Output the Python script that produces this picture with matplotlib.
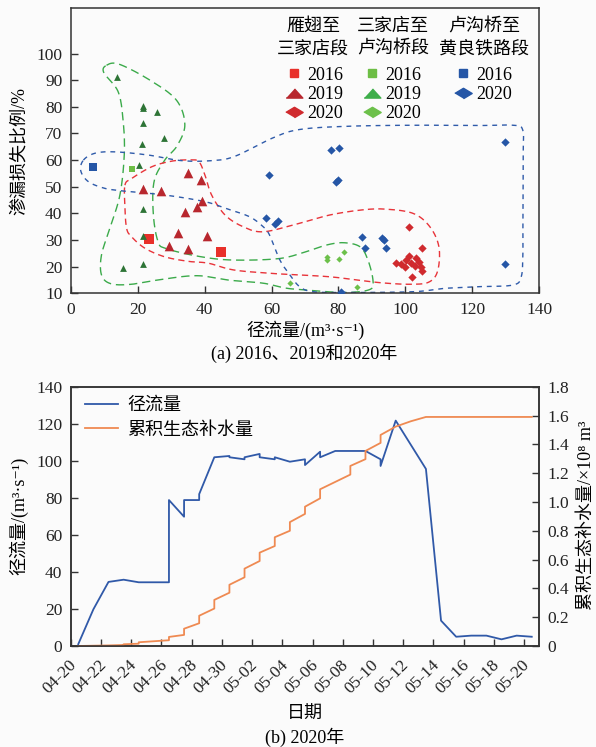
import numpy as np
import pandas as pd
import matplotlib
matplotlib.use("Agg")
import matplotlib.pyplot as plt
import matplotlib.dates as mdates
from matplotlib.lines import Line2D
from matplotlib.legend import Legend
from matplotlib.transforms import ScaledTranslation
from matplotlib.ticker import FuncFormatter

plt.rcParams['font.family'] = ['Liberation Serif', 'Noto Sans CJK SC', 'DejaVu Serif']
plt.rcParams['axes.unicode_minus'] = False

# ---------------- data: panel (a) ----------------
# 雁翅至三家店段
yq_2016_x = [23.3, 44.9]
yq_2016_y = [30.2, 25.6]
yq_2019_x = [34.9, 39.0, 21.5, 26.9, 39.1, 37.6, 34.2, 32.1, 40.6, 29.4, 34.9]
yq_2019_y = [55.2, 52.5, 49.0, 48.4, 44.6, 42.5, 40.5, 32.7, 31.6, 27.6, 26.5]
yq_2020_x = [101.1, 105.0, 97.3, 98.8, 100.3, 101.1, 101.8, 102.8, 103.3, 104.1, 104.8, 105.1, 102.0, 99.8]
yq_2020_y = [35.0, 27.1, 21.5, 21.0, 22.5, 24.0, 21.2, 20.2, 23.1, 21.9, 20.0, 18.5, 16.2, 20.0]
# 三家店至卢沟桥段
sj_2016_x = [18.3]
sj_2016_y = [56.5]
sj_2019_x = [13.7, 21.5, 21.6, 25.7, 21.7, 27.8, 21.3, 20.3, 21.7, 21.7, 15.7, 21.7]
sj_2019_y = [91.2, 79.4, 80.3, 78.0, 73.8, 68.2, 66.2, 58.3, 41.6, 31.5, 19.4, 20.9]
sj_2020_x = [65.5, 76.6, 76.6, 80.2, 81.7, 85.5]
sj_2020_y = [13.8, 23.7, 22.5, 22.7, 25.5, 12.5]
# 卢沟桥至黄良铁路段
lg_2016_x = [6.7]
lg_2016_y = [57.5]
lg_2020_x = [77.9, 80.2, 59.3, 79.2, 79.9, 58.3, 61.0, 62.0, 86.9, 87.9, 93.1, 93.6, 94.3, 80.9, 129.9, 129.9]
lg_2020_y = [63.7, 64.7, 54.4, 51.9, 52.5, 38.1, 36.0, 37.2, 31.0, 26.9, 30.6, 30.0, 27.1, 10.6, 66.9, 20.9]

# hand-drawn grouping outlines (data coordinates)
green_outline = [(10.7, 95.6), (14.5, 96.0), (23.7, 90.0), (31.6, 82.5), (34.1, 73.3), (31.8, 65.4),
                 (28.1, 60.0), (24.9, 51.9), (24.7, 39.4), (26.1, 29.4), (28.5, 26.8), (38.1, 23.9),
                 (48.1, 22.5), (62.0, 23.0), (70.0, 25.5), (76.0, 28.0), (81.4, 29.0), (86.4, 27.5),
                 (88.8, 22.5), (90.3, 15.0), (89.5, 11.5), (82.4, 10.3), (72.4, 11.0), (64.5, 11.9),
                 (57.5, 13.8), (48.1, 14.8), (38.1, 16.6), (28.1, 15.4), (18.2, 13.4), (12.0, 13.6),
                 (9.2, 16.9), (9.2, 24.4), (11.7, 34.4), (14.7, 46.9), (16.0, 61.9), (15.7, 74.3),
                 (14.2, 85.6), (9.9, 92.8)]
red_outline = [(16.2, 50.6), (18.2, 53.1), (24.2, 57.5), (30.1, 59.6), (35.6, 60.1), (38.3, 59.4),
               (40.1, 54.4), (42.1, 46.9), (46.1, 39.4), (51.5, 35.0), (57.5, 33.1), (67.5, 36.0),
               (77.4, 39.4), (87.0, 41.3), (94.0, 41.6), (102.3, 40.0), (107.3, 35.0), (110.0, 27.5),
               (109.7, 18.7), (107.3, 14.4), (102.3, 13.4), (92.3, 14.0), (77.4, 16.2), (62.0, 17.3),
               (49.0, 18.7), (41.1, 21.3), (35.1, 22.0), (28.1, 23.7), (22.2, 26.9), (18.2, 31.2),
               (16.7, 34.4), (16.2, 42.5)]
blue_outline = [(3.8, 60.0), (7.3, 62.6), (13.2, 63.1), (23.2, 61.9), (33.1, 59.8), (42.1, 59.8),
                (49.0, 61.4), (60.5, 68.4), (68.4, 71.5), (82.4, 72.7), (102.3, 73.1), (122.2, 73.0),
                (132.1, 73.1), (135.0, 71.5), (135.2, 62.5), (135.1, 38.7), (135.1, 25.0), (134.6, 16.2),
                (132.1, 13.1), (122.2, 12.5), (112.2, 11.9), (102.3, 10.6), (82.4, 10.3), (72.4, 10.6),
                (68.4, 12.5), (65.5, 16.9), (62.5, 22.5), (59.4, 31.9), (57.5, 35.0), (53.5, 38.7),
                (47.0, 41.6), (40.1, 44.4), (28.1, 46.9), (15.7, 48.4), (10.2, 49.4), (5.3, 51.9),
                (3.0, 56.0)]

# ---------------- data: panel (b) ----------------
runoff_time = ['04-20 12:00', '04-21 12:00', '04-22 12:00', '04-23 12:00', '04-24 12:00',
               '04-25 12:00', '04-26 12:00', '04-26 12:00', '04-27 12:00', '04-27 12:00',
               '04-28 12:00', '04-28 12:00', '04-29 12:00', '04-30 12:00', '04-30 12:00',
               '05-01 12:00', '05-01 12:00', '05-02 12:00', '05-02 12:00', '05-03 12:00',
               '05-03 12:00', '05-04 12:00', '05-05 12:00', '05-05 12:00', '05-06 12:00',
               '05-06 12:00', '05-07 12:00', '05-08 12:00', '05-09 12:00', '05-10 12:00',
               '05-10 12:00', '05-11 12:00', '05-13 12:00', '05-14 12:00', '05-15 12:00',
               '05-16 12:00', '05-17 12:00', '05-18 12:00', '05-19 12:00', '05-20 12:00']
runoff_value = [1.0, 19.8, 34.6, 35.8, 34.4,
                34.4, 34.4, 78.8, 69.8, 78.8,
                78.8, 82.0, 101.9, 102.6, 101.9,
                100.8, 101.9, 103.7, 101.9, 100.8,
                101.9, 99.5, 100.8, 97.7, 104.9,
                101.9, 105.3, 105.3, 105.3, 100.8,
                97.2, 121.7, 95.6, 13.7, 5.0,
                5.6, 5.6, 3.6, 5.6, 5.0]

supply_time = ['04-20 12:00', '04-21 12:00', '04-22 12:00', '04-23 12:00', '04-23 12:00',
               '04-24 12:00', '04-24 12:00', '04-25 12:00', '04-26 12:00', '04-26 12:00',
               '04-27 12:00', '04-27 12:00', '04-28 12:00', '04-28 12:00', '04-29 12:00',
               '04-29 12:00', '04-30 12:00', '04-30 12:00', '05-01 12:00', '05-01 12:00',
               '05-02 12:00', '05-02 12:00', '05-03 12:00', '05-03 12:00', '05-04 12:00',
               '05-04 12:00', '05-05 12:00', '05-05 12:00', '05-06 12:00', '05-06 12:00',
               '05-08 12:00', '05-08 12:00', '05-09 12:00', '05-09 12:00', '05-10 12:00',
               '05-10 12:00', '05-11 12:00', '05-12 12:00', '05-13 12:00', '05-20 12:00']
supply_value = [0.000, 0.002, 0.004, 0.007, 0.012,
                0.016, 0.026, 0.033, 0.040, 0.063,
                0.077, 0.120, 0.158, 0.210, 0.260,
                0.320, 0.370, 0.425, 0.477, 0.537,
                0.590, 0.648, 0.694, 0.755, 0.800,
                0.860, 0.917, 0.967, 1.025, 1.088,
                1.190, 1.250, 1.297, 1.354, 1.410,
                1.465, 1.523, 1.560, 1.590, 1.590]

# ---------------- style ----------------
RED_SQ = '#E8302A'
RED_TRI = '#B8272E'
RED_DIA = '#D02A2E'
GRN_SQ = '#6DBE45'
GRN_TRI = '#2E7436'
GRN_TRI_LEG = '#3EAE4A'
GRN_DIA = '#6CC04A'
BLUE = '#2556A6'
LINE_BLUE = '#3059A8'
LINE_ORANGE = '#EF8A52'
SPINE = '#333333'
BG = '#fbfbfb'

W, H = 596, 747
fig = plt.figure(figsize=(W / 100, H / 100), dpi=100, facecolor=BG)

def px_axes(l, t, r, b):
    return [l / W, 1 - b / H, (r - l) / W, (b - t) / H]

# ---------------- panel (a) ----------------
ax1 = fig.add_axes(px_axes(70.7, 8.3, 539.3, 293.3))
ax1.set_facecolor(BG)
ax1.set_xlim(0, 140)
ax1.set_ylim(10, 117)

def smooth_closed(pts, n=24):
    P = np.array(pts, dtype=float)
    sx, sy = 3.35, 2.667
    P = P * [sx, sy]
    N = len(P)
    t = np.linspace(0, 1, n, endpoint=False)[:, None]
    segs = []
    for i in range(N):
        p0, p1, p2, p3 = P[i - 1], P[i], P[(i + 1) % N], P[(i + 2) % N]
        segs.append(0.5 * ((2 * p1) + (-p0 + p2) * t + (2 * p0 - 5 * p1 + 4 * p2 - p3) * t ** 2
                           + (-p0 + 3 * p1 - 3 * p2 + p3) * t ** 3))
    out = np.vstack(segs)
    out = np.vstack([out, out[:1]])
    return out[:, 0] / sx, out[:, 1] / sy

for pts, col, dash in [(green_outline, '#3BAA4A', (6, 3.5)),
                       (red_outline, '#E8343A', (4.5, 3)),
                       (blue_outline, '#2F5BAA', (3.5, 3.5))]:
    xs, ys = smooth_closed(pts)
    ax1.plot(xs, ys, color=col, lw=1.0, dashes=dash, zorder=1)

ax1.scatter(yq_2016_x, yq_2016_y, marker='s', s=48, color=RED_SQ, lw=0, zorder=3)
ax1.scatter(sj_2019_x, sj_2019_y, marker='^', s=24, color=GRN_TRI, lw=0, zorder=3)
ax1.scatter(yq_2019_x, yq_2019_y, marker='^', s=48, color=RED_TRI, lw=0, zorder=3)
ax1.scatter(sj_2016_x, sj_2016_y, marker='s', s=20, color=GRN_SQ, lw=0, zorder=3)
ax1.scatter(lg_2016_x, lg_2016_y, marker='s', s=30, color=BLUE, lw=0, zorder=3)
ax1.scatter(yq_2020_x, yq_2020_y, marker='D', s=18, color=RED_DIA, lw=0, zorder=3)
ax1.scatter(sj_2020_x, sj_2020_y, marker='D', s=10, color=GRN_DIA, lw=0, zorder=3)
ax1.scatter(lg_2020_x, lg_2020_y, marker='D', s=18, color=BLUE, lw=0, zorder=3)

ax1.set_xticks(np.arange(0, 141, 20))
ax1.set_yticks(np.arange(10, 101, 10))
ax1.tick_params(direction='in', length=5, width=1, labelsize=12.5, pad=6, colors=SPINE,
                labelcolor='#222222')
for sp in ax1.spines.values():
    sp.set_color(SPINE)
    sp.set_linewidth(1.1)

ax1.set_xlabel('径流量/(m³·s⁻¹)', fontsize=13, labelpad=2)
ax1.set_ylabel('渗漏损失比例/%', fontsize=13, labelpad=6)
fig.text(304 / W, 1 - 353 / H, '(a) 2016、2019和2020年', fontsize=13, ha='center', va='center')

# legend (three groups)
tri_flat = [(-1, -0.55), (1, -0.55), (0, 0.55)]
dia_flat = [(-1, 0), (0, 0.6), (1, 0), (0, -0.6)]

def ax_x(px):
    return (px - 70.7) / (539.3 - 70.7)

def ax_y(py):
    return 1 - (py - 8.3) / (293.3 - 8.3)

headers = [('雁翅至', '三家店段', 313), ('三家店至', '卢沟桥段', 393), ('卢沟桥至', '黄良铁路段', 484)]
for h1, h2, cx in headers:
    ax1.text(ax_x(cx), ax_y(26.7), h1, transform=ax1.transAxes, ha='center', va='center', fontsize=13)
    ax1.text(ax_x(cx), ax_y(49.3), h2, transform=ax1.transAxes, ha='center', va='center', fontsize=13)

groups = [
    ([Line2D([], [], ls='', marker='s', ms=6.3, color=RED_SQ),
      Line2D([], [], ls='', marker=tri_flat, ms=12, color=RED_TRI),
      Line2D([], [], ls='', marker=dia_flat, ms=12.5, color=RED_DIA)],
     ['2016', '2019', '2020'], 285.5),
    ([Line2D([], [], ls='', marker='s', ms=6.3, color=GRN_SQ),
      Line2D([], [], ls='', marker=tri_flat, ms=12, color=GRN_TRI_LEG),
      Line2D([], [], ls='', marker=dia_flat, ms=12.5, color=GRN_DIA)],
     ['2016', '2019', '2020'], 363.9),
    ([Line2D([], [], ls='', marker='s', ms=6.3, color=BLUE),
      Line2D([], [], ls='', marker=dia_flat, ms=12.5, color=BLUE)],
     ['2016', '2020'], 454.9),
]
for handles, labels, x0 in groups:
    lg = Legend(ax1, handles, labels, loc='upper left', bbox_to_anchor=(ax_x(x0), ax_y(66.5)),
                frameon=False, fontsize=13, handlelength=0.9, handletextpad=0.3,
                labelspacing=0.13, borderpad=0, borderaxespad=0)
    ax1.add_artist(lg)

# ---------------- panel (b) ----------------
ax2 = fig.add_axes(px_axes(70.7, 386.7, 539.3, 646.0))
ax2.set_facecolor(BG)
t_run = pd.to_datetime(['2020-' + s for s in runoff_time])
t_sup = pd.to_datetime(['2020-' + s for s in supply_time])

l1, = ax2.plot(t_run, runoff_value, color=LINE_BLUE, lw=1.3, label='径流量')
ax2.set_ylim(0, 140)
ax2.set_yticks(np.arange(0, 141, 20))
ax2.set_xlim(pd.Timestamp('2020-04-20'), pd.Timestamp('2020-05-21'))

ax3 = ax2.twinx()
l2, = ax3.plot(t_sup, supply_value, color=LINE_ORANGE, lw=1.3, label='累积生态补水量')
ax3.set_ylim(0, 1.8)
ax3.set_yticks(np.arange(0, 1.81, 0.2))
ax3.yaxis.set_major_formatter(FuncFormatter(lambda v, p: '0' if abs(v) < 1e-9 else f'{v:.1f}'))

ticks = pd.date_range('2020-04-20', '2020-05-20', freq='2D')
ax2.set_xticks(ticks)
ax2.xaxis.set_major_formatter(mdates.DateFormatter('%m-%d'))
ax2.tick_params(axis='both', direction='in', length=5, width=1, labelsize=12.5, colors=SPINE,
                labelcolor='#222222')
ax2.tick_params(axis='y', pad=6)
ax2.tick_params(axis='x', pad=8)
ax3.tick_params(axis='y', direction='in', length=5, width=1, labelsize=12.5, pad=6, colors=SPINE,
                labelcolor='#222222')
off = ScaledTranslation(9 / 100, 0, fig.dpi_scale_trans)
for lab in ax2.get_xticklabels():
    lab.set_rotation(45)
    lab.set_ha('right')
    lab.set_transform(lab.get_transform() + off)
for a in (ax2, ax3):
    for sp in a.spines.values():
        sp.set_color(SPINE)
        sp.set_linewidth(1.1)

ax2.set_ylabel('径流量/(m³·s⁻¹)', fontsize=13, labelpad=6)
fig.text(586 / W, 1 - 515 / H, '累积生态补水量/×10⁸ m³', fontsize=13, rotation=90,
         rotation_mode='anchor', ha='center', va='center')
ax2.set_xlabel('日期', fontsize=13, labelpad=6)
fig.text(305 / W, 1 - 737 / H, '(b) 2020年', fontsize=13, ha='center', va='center')

ax2.legend([l1, l2], ['径流量', '累积生态补水量'], loc='upper left',
           bbox_to_anchor=((85 - 70.7) / 468.6, (646 - 397) / 259.3), frameon=False,
           fontsize=13, handlelength=1.82, handletextpad=0.5, labelspacing=0.42,
           borderpad=0, borderaxespad=0)

fig.savefig('out.png', dpi=100, facecolor=BG)
